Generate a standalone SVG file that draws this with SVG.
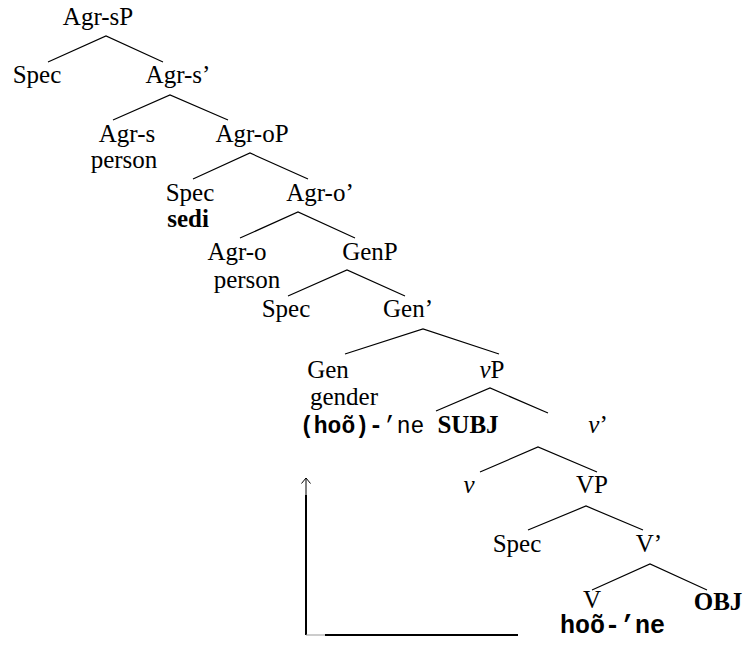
<svg xmlns="http://www.w3.org/2000/svg" width="744" height="647" viewBox="0 0 744 647">
<style>
text{font-family:'Liberation Serif','Times New Roman','DejaVu Serif',serif;font-size:25px;fill:#000;text-anchor:middle}
.b{font-weight:bold}
.i{font-style:italic}
.m{font-family:'Liberation Mono','Courier New','DejaVu Sans Mono',monospace;font-size:23px;text-anchor:start}
.e line,.e path{stroke:#000;stroke-width:1.2;fill:none}
</style>
<rect width="744" height="647" fill="#fff"/>
<g id="connectors" class="e">
<path d="M48,62 L106,36 L163,62"/>
<path d="M113,120 L170,95 L228,120"/>
<path d="M193,179 L250,153 L308,179"/>
<path d="M240,238 L298,212 L355,238"/>
<path d="M288,296 L347,270 L405,296"/>
<path d="M345,354 L423,329 L499,354"/>
<path d="M436,411 L490,388 L548,413"/>
<path d="M480,472 L538,447 L597,472"/>
<path d="M528,530 L586,506 L643,530"/>
<path d="M592,590 L650,564 L707,590"/>
<g id="movement-arrow">
<path d="M301.5,483.5 L306,478 L310.5,483.5" style="stroke-width:1"/>
<line x1="306" y1="478" x2="306" y2="496" style="stroke-width:1"/>
<line x1="306" y1="495" x2="306" y2="635" style="stroke-width:2"/>
<line x1="306" y1="635" x2="326" y2="635" style="stroke:#999;stroke-width:1"/>
<line x1="325" y1="635" x2="518" y2="635" style="stroke-width:2"/>
</g>
</g>
<g id="agr-sP"><text x="98" y="25">Agr-sP</text></g>
<g id="spec-s"><text x="37" y="83">Spec</text></g>
<g id="agr-s-bar"><text x="178" y="83">Agr-s’</text></g>
<g id="agr-s"><text x="127" y="142">Agr-s</text><text x="124" y="168">person</text></g>
<g id="agr-oP"><text x="252" y="142">Agr-oP</text></g>
<g id="spec-o"><text x="190" y="201">Spec</text><text class="b" x="188" y="227">sedi</text></g>
<g id="agr-o-bar"><text x="320" y="201">Agr-o’</text></g>
<g id="agr-o"><text x="237" y="260">Agr-o</text><text x="247" y="288">person</text></g>
<g id="genP"><text x="370" y="260">GenP</text></g>
<g id="spec-gen"><text x="286" y="317">Spec</text></g>
<g id="gen-bar"><text x="408" y="317">Gen’</text></g>
<g id="gen"><text x="328" y="378">Gen</text><text x="344" y="405">gender</text>
<text class="m" x="300" y="433"><tspan font-weight="bold">(hoõ)-</tspan>’ne</text></g>
<g id="vP"><text x="492" y="378"><tspan class="i">v</tspan>P</text></g>
<g id="subj"><text class="b" x="468" y="433">SUBJ</text></g>
<g id="v-bar"><text x="598" y="433"><tspan class="i">v</tspan>’</text></g>
<g id="v"><text class="i" x="469" y="493">v</text></g>
<g id="VP"><text x="592" y="493">VP</text></g>
<g id="spec-V"><text x="517" y="552">Spec</text></g>
<g id="V-bar"><text x="649" y="552">V’</text></g>
<g id="V"><text x="592" y="608">V</text><text class="m" x="560" y="633" font-weight="bold" style="font-size:25px">hoõ-’ne</text></g>
<g id="obj"><text class="b" x="718" y="610">OBJ</text></g>
</svg>
